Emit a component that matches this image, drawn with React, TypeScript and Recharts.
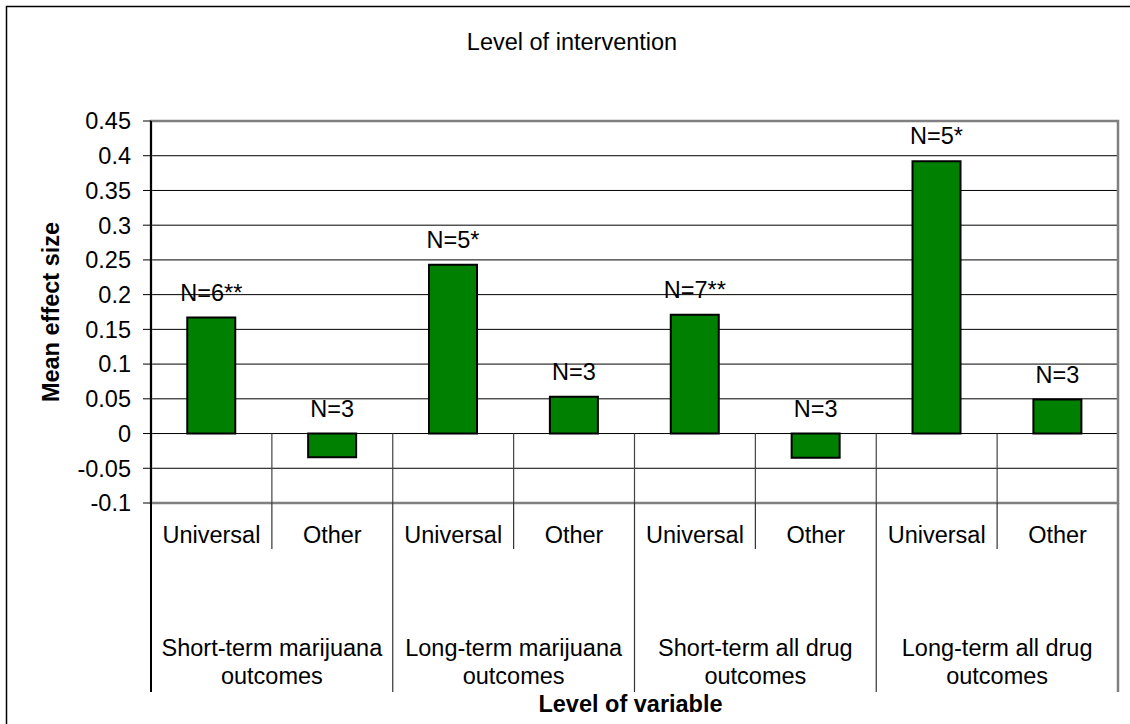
import React from 'react';
import {
  BarChart,
  Bar,
  XAxis,
  YAxis,
  CartesianGrid,
  ReferenceLine,
  ReferenceArea,
  LabelList,
} from 'recharts';

const groups = [
  'Short-term marijuana outcomes',
  'Long-term marijuana outcomes',
  'Short-term all drug outcomes',
  'Long-term all drug outcomes',
];
const levels = ['Universal', 'Other'];
const effectSizes = [0.167, -0.034, 0.243, 0.053, 0.171, -0.035, 0.392, 0.049];
const nLabels = ['N=6**', 'N=3', 'N=5*', 'N=3', 'N=7**', 'N=3', 'N=5*', 'N=3'];
const yTicks = [-0.1, -0.05, 0, 0.05, 0.1, 0.15, 0.2, 0.25, 0.3, 0.35, 0.4, 0.45];

const rows = groups.flatMap((g, gi) =>
  levels.map((l, li) => {
    const i = gi * levels.length + li;
    return { key: `${g} / ${l}`, group: g, level: l, value: effectSizes[i], n: nLabels[i] };
  })
);

const FONT = '"Liberation Sans", Arial, sans-serif';
const FS = 23.5;

// tick below the plot: level name, separators, group name under each pair
// eslint-disable-next-line @typescript-eslint/no-explicit-any
const LevelTick = (props: any) => {
  const { x, y, payload, index } = props;
  const half = payload?.offset ?? 60;
  const row = rows[index];
  if (!row) return null;
  const left = x - half;
  const right = x + half;
  const groupStart = index % 2 === 0;
  const cut = row.group.lastIndexOf(' ');
  return (
    <g>
      <line
        x1={left}
        x2={left}
        y1={y}
        y2={y + (groupStart ? 189 : 46)}
        stroke={index === 0 ? '#000' : '#333'}
        strokeWidth={index === 0 ? 2 : 1.2}
      />
      {index === rows.length - 1 && (
        <line x1={right} x2={right} y1={y} y2={y + 189} stroke="#808080" strokeWidth={2.5} />
      )}
      <text x={x} y={y + 40} textAnchor="middle" fontSize={FS} fontFamily={FONT} fill="#000">
        {row.level}
      </text>
      {!groupStart && (
        <text textAnchor="middle" fontSize={FS} fontFamily={FONT} fill="#000">
          <tspan x={left} y={y + 153}>{row.group.slice(0, cut)}</tspan>
          <tspan x={left} y={y + 181}>{row.group.slice(cut + 1)}</tspan>
        </text>
      )}
    </g>
  );
};

// eslint-disable-next-line @typescript-eslint/no-explicit-any
const renderN = (p: any) => {
  const { x, y, width, height, value } = p;
  const top = Math.min(y, y + height);
  return (
    <text x={x + width / 2} y={top - 17} textAnchor="middle" fontSize={FS} fontFamily={FONT} fill="#000">
      {value}
    </text>
  );
};

// eslint-disable-next-line @typescript-eslint/no-explicit-any
const renderYTitle = (p: any) => {
  const vb = p.viewBox || { x: 0, y: 121, width: 151, height: 382 };
  const cx = vb.x + 51;
  const cy = vb.y + vb.height / 2;
  return (
    <text
      x={cx}
      y={cy}
      transform={`rotate(-90 ${cx} ${cy})`}
      textAnchor="middle"
      dominantBaseline="central"
      fontSize={FS}
      fontWeight="bold"
      fontFamily={FONT}
      fill="#000"
    >
      Mean effect size
    </text>
  );
};

// eslint-disable-next-line @typescript-eslint/no-explicit-any
const renderXTitle = (p: any) => {
  const vb = p.viewBox || { x: 151, y: 503, width: 967, height: 189 };
  return (
    <text
      x={vb.x + vb.width / 2 - 4}
      y={vb.y + vb.height + 20}
      textAnchor="middle"
      fontSize={FS}
      fontWeight="bold"
      fontFamily={FONT}
      fill="#000"
    >
      Level of variable
    </text>
  );
};

export default function App() {
  return (
    <div style={{ position: 'relative', width: 1130, height: 724, background: '#fff' }}>
      <style>{'body{margin:0}'}</style>
      <BarChart
        width={1130}
        height={724}
        data={rows}
        margin={{ top: 121, right: 12, bottom: 32, left: 0 }}
        barCategoryGap="30%"
      >
        <CartesianGrid horizontal vertical={false} stroke="#000" strokeWidth={1} />
        <ReferenceArea y1={-0.1} y2={0.45} fill="none" stroke="#808080" strokeWidth={2.5} />
        {rows.slice(1).map((r) => (
          <ReferenceLine
            key={r.key}
            segment={[
              { x: r.key, y: 0 },
              { x: r.key, y: -0.1 },
            ]}
            position="start"
            stroke="#444"
            strokeWidth={1.2}
          />
        ))}
        <XAxis
          dataKey="key"
          height={189}
          interval={0}
          axisLine={false}
          tickLine={false}
          tickSize={0}
          tickMargin={0}
          tick={<LevelTick />}
          label={renderXTitle}
        />
        <YAxis
          width={151}
          domain={[-0.1, 0.45]}
          ticks={yTicks}
          interval={0}
          allowDataOverflow
          tickFormatter={(v: number) => String(v)}
          tick={{ fontSize: FS, fontFamily: FONT, fill: '#000' }}
          tickSize={8}
          tickMargin={12}
          tickLine={{ stroke: '#000' }}
          axisLine={{ stroke: '#000', strokeWidth: 2 }}
          label={renderYTitle}
        />
        <Bar dataKey="value" fill="#008000" stroke="#000" strokeWidth={2} isAnimationActive={false}>
          <LabelList dataKey="n" content={renderN} />
        </Bar>
      </BarChart>
      <svg
        width={1130}
        height={724}
        style={{ position: 'absolute', left: 0, top: 0, pointerEvents: 'none' }}
      >
        <rect x={6.5} y={6.5} width={1200} height={1200} fill="none" stroke="#000" strokeWidth={1.5} />
        <text x={572} y={50} textAnchor="middle" fontSize={FS} fontFamily={FONT} fill="#000">
          Level of intervention
        </text>
      </svg>
    </div>
  );
}
